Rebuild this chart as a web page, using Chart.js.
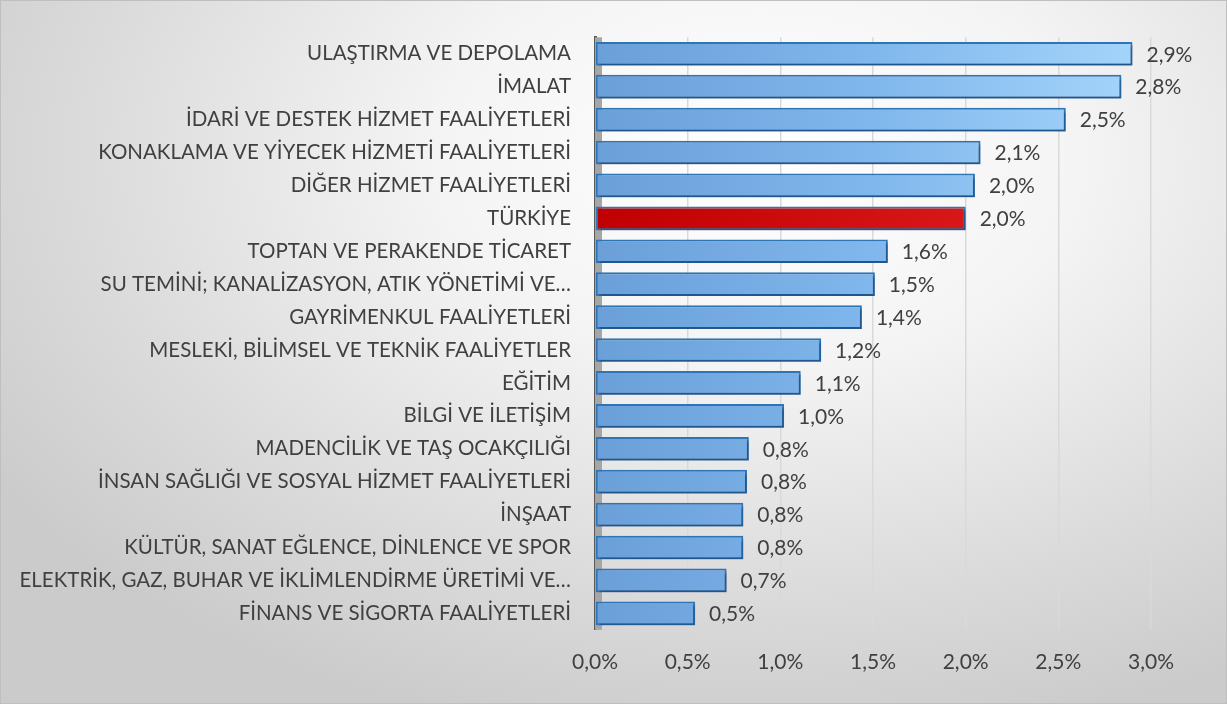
<!DOCTYPE html>
<html>
<head>
<meta charset="utf-8">
<script src="https://cdn.jsdelivr.net/npm/chart.js@4.4.1/dist/chart.umd.min.js"></script>
<style>
  html, body { margin: 0; padding: 0; }
  #kutu {
    width: 1225px; height: 702px;
    border: 1px solid #bfbfbf;
    background: radial-gradient(ellipse 75% 85% at 62% 22%, #ffffff 0%, #f4f4f4 35%, #dadada 75%, #cbcbcb 100%);
  }
</style>
</head>
<body>
<div id="kutu"><canvas id="grafik" width="1225" height="702"></canvas></div>
<script>
// Sektörler ve büyüme oranları (%)
var sektorler = [
    'ULAŞTIRMA VE DEPOLAMA',
    'İMALAT',
    'İDARİ VE DESTEK HİZMET FAALİYETLERİ',
    'KONAKLAMA VE YİYECEK HİZMETİ FAALİYETLERİ',
    'DİĞER HİZMET FAALİYETLERİ',
    'TÜRKİYE',
    'TOPTAN VE PERAKENDE TİCARET',
    'SU TEMİNİ; KANALİZASYON, ATIK YÖNETİMİ VE…',
    'GAYRİMENKUL FAALİYETLERİ',
    'MESLEKİ, BİLİMSEL VE TEKNİK FAALİYETLER',
    'EĞİTİM',
    'BİLGİ VE İLETİŞİM',
    'MADENCİLİK VE TAŞ OCAKÇILIĞI',
    'İNSAN SAĞLIĞI VE SOSYAL HİZMET FAALİYETLERİ',
    'İNŞAAT',
    'KÜLTÜR, SANAT EĞLENCE, DİNLENCE VE SPOR',
    'ELEKTRİK, GAZ, BUHAR VE İKLİMLENDİRME ÜRETİMİ VE…',
    'FİNANS VE SİGORTA FAALİYETLERİ'
];
var oranlar = [2.90, 2.84, 2.54, 2.08, 2.05, 2.00, 1.58, 1.51, 1.44, 1.22, 1.11, 1.02, 0.83, 0.82, 0.80, 0.80, 0.71, 0.54];
var eksenDegerleri = [0, 0.5, 1, 1.5, 2, 2.5, 3];

var yaziRengi = '#404040';
var yazi = "Lato, 'Open Sans', sans-serif";

function yuzde(v) {
    return v.toFixed(1).replace('.', ',') + '%';
}

function barRengi(context) {
    var chart = context.chart;
    var area = chart.chartArea;
    if (!area) return '#6fa8dc';
    var ctx = chart.ctx;
    var g = ctx.createLinearGradient(area.left, 0, area.right, 0);
    if (sektorler[context.dataIndex] === 'TÜRKİYE') {
        g.addColorStop(0, '#c00000');
        g.addColorStop(1, '#e42424');
    } else {
        g.addColorStop(0, '#6a9fd8');
        g.addColorStop(0.5, '#80b7ec');
        g.addColorStop(1, '#a6d6fb');
    }
    return g;
}

// Arka duvar ve gölge
var duvarEklentisi = {
    id: 'duvar',
    beforeDatasetsDraw: function(chart) {
        var a = chart.chartArea;
        var ctx = chart.ctx;
        ctx.save();
        ctx.fillStyle = '#a6a6a6';
        ctx.fillRect(a.left, a.top, 7, a.bottom - a.top);
        ctx.restore();
    },
    beforeDatasetDraw: function(chart) {
        var ctx = chart.ctx;
        ctx.save();
        ctx.shadowColor = 'rgba(20,60,110,0.55)';
        ctx.shadowOffsetX = 2;
        ctx.shadowOffsetY = 3;
        ctx.shadowBlur = 2;
    },
    afterDatasetDraw: function(chart) {
        chart.ctx.restore();
    }
};

// Değer etiketleri
var etiketEklentisi = {
    id: 'etiketler',
    afterDatasetsDraw: function(chart) {
        var ctx = chart.ctx;
        var meta = chart.getDatasetMeta(0);
        ctx.save();
        ctx.font = '21px ' + yazi;
        ctx.fillStyle = yaziRengi;
        ctx.textAlign = 'left';
        ctx.textBaseline = 'middle';
        meta.data.forEach(function(bar, i) {
            ctx.fillText(yuzde(oranlar[i]), bar.x + 14, bar.y + 1);
        });
        ctx.restore();
    }
};

var grafik = new Chart(document.getElementById('grafik'), {
    type: 'bar',
    data: {
        labels: sektorler,
        datasets: [{
            data: oranlar,
            backgroundColor: barRengi,
            borderColor: '#2e75b6',
            borderWidth: 2,
            borderSkipped: false,
            barPercentage: 0.72,
            categoryPercentage: 1
        }]
    },
    options: {
        indexAxis: 'y',
        responsive: false,
        animation: false,
        layout: {
            padding: { top: 36, right: 75, bottom: 8, left: 0 }
        },
        plugins: {
            legend: { display: false },
            tooltip: { enabled: false }
        },
        scales: {
            x: {
                min: 0,
                max: 3,
                afterBuildTicks: function(scale) {
                    scale.ticks = eksenDegerleri.map(function(v) { return { value: v }; });
                },
                grid: { color: '#d9d9d9', lineWidth: 1.5, drawTicks: false },
                border: { display: false },
                ticks: {
                    color: yaziRengi,
                    font: { family: yazi, size: 21 },
                    padding: 20,
                    callback: function(v) { return yuzde(v); }
                }
            },
            y: {
                afterFit: function(scale) { scale.width = 594; },
                grid: { display: false, drawTicks: false },
                border: { color: '#595959', width: 3 },
                ticks: {
                    color: yaziRengi,
                    font: { family: yazi, size: 20.5 },
                    padding: 24,
                    autoSkip: false
                }
            }
        }
    },
    plugins: [duvarEklentisi, etiketEklentisi]
});
</script>
</body>
</html>
